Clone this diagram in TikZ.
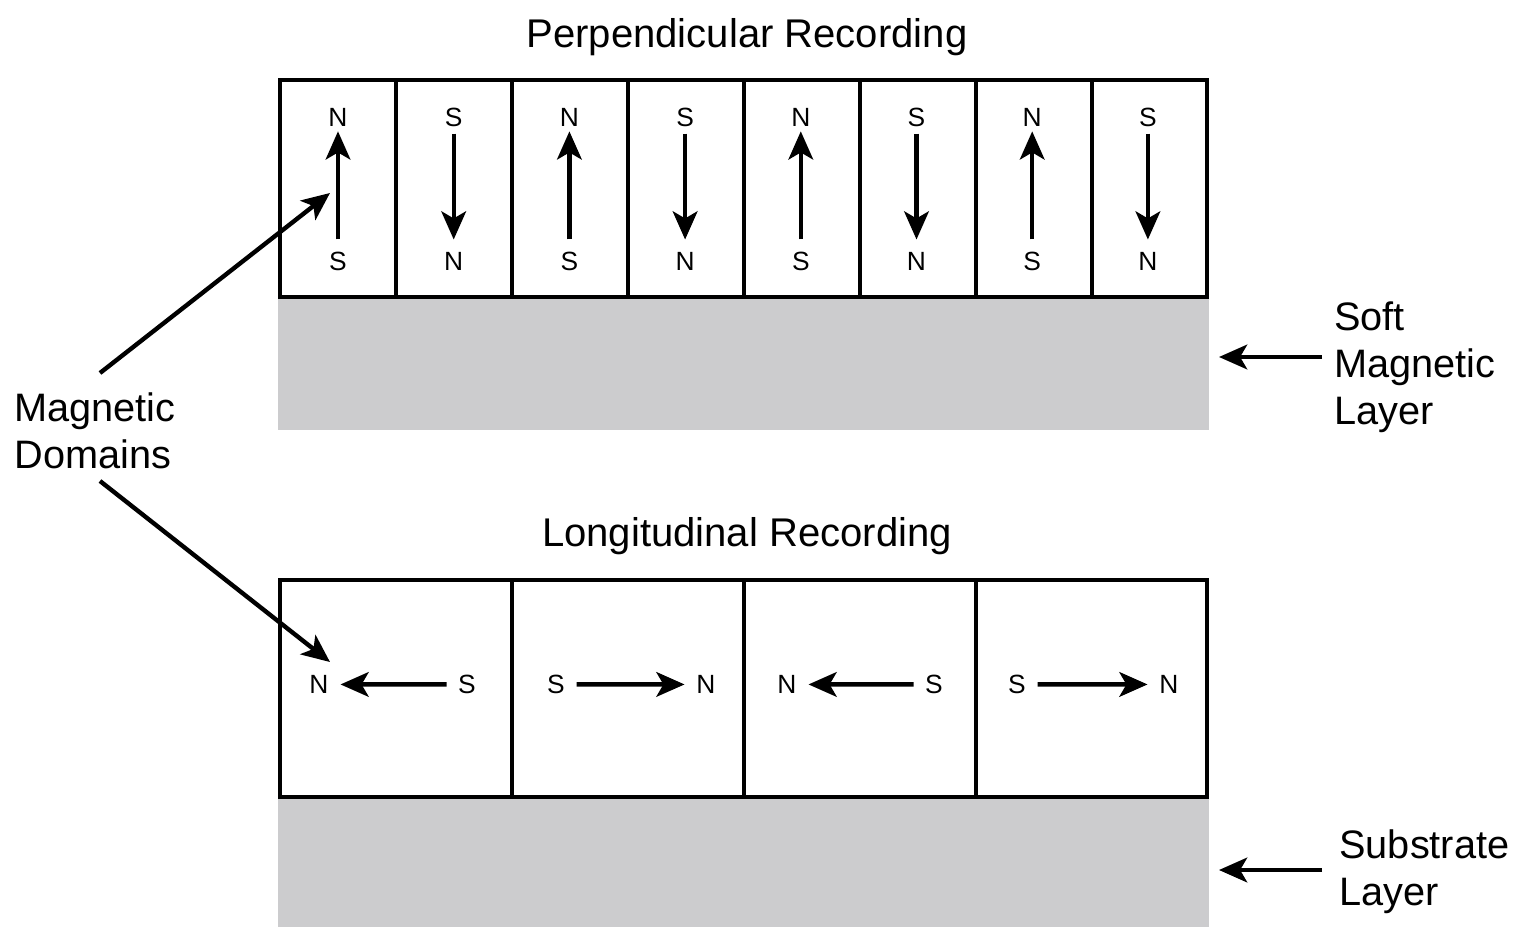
\documentclass[tikz,border=0pt]{standalone}
\usepackage{fontspec}
\setmainfont{Liberation Sans}
\usetikzlibrary{arrows.meta}
\definecolor{layergray}{RGB}{204,204,206}
\begin{document}
\begin{tikzpicture}[x=0.02cm,y=-0.02cm,
  boxline/.style={draw=black, line width=2.6pt},
  arr/.style={line width=2.5pt, -{Stealth[length=16pt,width=14pt,inset=4pt]}},
  pole/.style={font=\fontsize{15}{18}\selectfont, inner sep=0pt, anchor=base},
  titletext/.style={font=\fontsize{22.8}{27}\selectfont, inner sep=0pt, anchor=base},
  lab/.style={font=\fontsize{22.6}{26.8}\selectfont, inner sep=0pt, align=left, anchor=north west}]
\useasboundingbox (0,0) rectangle (1525,927);

% ---------- Perpendicular recording ----------
\node[titletext] (ptitle) at (747,47) {Perpendicular Recording};
\fill[layergray] (278,297) rectangle (1209,430);
\draw[boxline] (280,80) rectangle (1207,297);
\foreach \xx in {396,512,628,744,860,976,1092}
  \draw[boxline] (\xx,80) -- (\xx,297);

\foreach \i in {0,2,4,6}{
  \pgfmathsetmacro{\cx}{338+\i*115.7}
  \node[pole] (pt\i) at (\cx,126) {N};
  \node[pole] (pb\i) at (\cx,270) {S};
  \draw[arr, shorten <=0.24cm, shorten >=0.1cm] (pb\i.north) -- (pt\i.south);
}
\foreach \i in {1,3,5,7}{
  \pgfmathsetmacro{\cx}{338+\i*115.7}
  \node[pole] (pt\i) at (\cx,126) {S};
  \node[pole] (pb\i) at (\cx,270) {N};
  \draw[arr, shorten <=0.14cm, shorten >=0.24cm] (pt\i.south) -- (pb\i.north);
}

% ---------- Longitudinal recording ----------
\node[titletext] (ltitle) at (747,546) {Longitudinal Recording};
\fill[layergray] (278,797) rectangle (1209,927);
\draw[boxline] (280,580) rectangle (1207,797);
\foreach \xx in {512,744,976}
  \draw[boxline] (\xx,580) -- (\xx,797);

\node[pole] (ln1) at (319,693.5) {N};
\node[pole] (ls1) at (467,693.5) {S};
\node[pole] (ls2) at (556,693.5) {S};
\node[pole] (ln2) at (706,693.5) {N};
\node[pole] (ln3) at (787,693.5) {N};
\node[pole] (ls3) at (934,693.5) {S};
\node[pole] (ls4) at (1017,693.5) {S};
\node[pole] (ln4) at (1169,693.5) {N};
\foreach \k in {1,2,3,4}
  \draw[arr, shorten <=0.41cm, shorten >=0.43cm] (ls\k.center) -- (ln\k.center);

% ---------- Labels ----------
\node[lab] (md) at (14,392) {Magnetic\\Domains};
\coordinate (mdA) at (100,373);
\coordinate (mdAt) at (330,193);
\coordinate (mdB) at (100,481);
\coordinate (mdBt) at (330,662);
\draw[arr] (mdA) -- (mdAt);
\draw[arr] (mdB) -- (mdBt);

\node[lab] (soft) at (1334,301) {Soft\\Magnetic\\Layer};
\coordinate (softA) at (1322,357);
\coordinate (softT) at (1219,357);
\draw[arr] (softA) -- (softT);

\node[lab] (sub) at (1339,829) {Substrate\\Layer};
\coordinate (subA) at (1322,870);
\coordinate (subT) at (1219,870);
\draw[arr] (subA) -- (subT);
\end{tikzpicture}
\end{document}
